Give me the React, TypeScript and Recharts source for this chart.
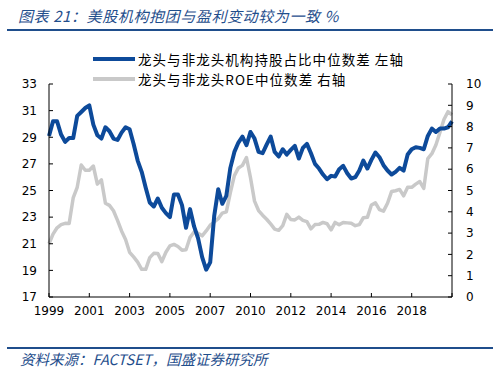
import React from 'react';
import { LineChart, Line, XAxis, YAxis } from 'recharts';

// year labels shown every 10 points on the x axis
const yearLabels = ['1999', '2001', '2003', '2005', '2007', '2010', '2012', '2014', '2016', '2018'];

// 龙头与非龙头机构持股占比中位数差 (left axis)
const holdingGap = [
  29.1, 30.2, 30.2, 29.2, 28.65, 28.94, 28.94, 30.6, 30.9, 31.2,
  31.4, 29.95, 29.15, 28.9, 29.75, 29.45, 28.9, 28.8, 29.35, 29.75,
  29.6, 28.5, 27.25, 26.4, 25.2, 24.1, 23.8, 24.4, 23.7, 23.3,
  23.0, 24.7, 24.7, 23.9, 22.2, 23.6, 22.3, 21.4, 20.0, 19.05,
  19.6, 23.1, 25.1, 24.0, 24.6, 26.7, 27.9, 28.6, 29.05, 28.4,
  29.4, 28.9, 27.9, 27.8, 28.45, 29.05, 27.9, 27.55, 28.1, 27.7,
  28.05, 28.35, 27.4, 28.2, 28.5, 27.8, 27.0, 26.65, 26.2, 25.85,
  26.1, 26.05, 26.6, 26.85, 26.3, 25.9, 26.0, 26.5, 27.25, 26.65,
  27.3, 27.85, 27.5, 26.9, 26.5, 26.2, 26.4, 26.7, 26.5, 27.7,
  28.1, 28.25, 28.2, 28.1, 29.1, 29.65, 29.4, 29.65, 29.65, 29.75,
  30.2,
];

// 龙头与非龙头ROE中位数差 (right axis)
const roeGap = [
  2.5, 2.95, 3.25, 3.4, 3.46, 3.45, 4.65, 5.15, 6.2, 5.95,
  5.95, 6.15, 5.3, 5.5, 4.4, 4.3, 4.05, 3.6, 3.1, 2.7,
  2.1, 1.88, 1.64, 1.3, 1.3, 1.85, 2.05, 2.04, 1.66, 2.1,
  2.4, 2.47, 2.37, 2.2, 2.22, 2.8, 3.05, 3.0, 2.87, 3.1,
  3.37, 3.52, 3.68, 3.94, 4.0, 4.9, 5.7, 6.06, 6.18, 6.55,
  5.6, 4.5, 4.06, 3.84, 3.65, 3.43, 3.19, 3.13, 3.35, 3.88,
  3.64, 3.62, 3.75, 3.6, 3.54, 3.2, 3.4, 3.41, 3.5, 3.44,
  3.15, 3.5, 3.39, 3.5, 3.48, 3.46, 3.35, 3.4, 3.72, 3.74,
  4.32, 4.42, 4.1, 4.03, 4.4, 4.95, 4.99, 5.05, 4.75, 5.15,
  5.15, 5.3, 5.42, 5.1, 6.5, 6.73, 7.14, 7.72, 8.33, 8.7,
  8.55,
];

const leftTicks = [17, 19, 21, 23, 25, 27, 29, 31, 33];
const rightTicks = [0, 1, 2, 3, 4, 5, 6, 7, 8, 9, 10];

const data = holdingGap.map((v, i) => ({ idx: i, holding: v, roe: roeGap[i] }));
const xTicks = Array.from({ length: 11 }, (_, i) => i * 10);

const BLUE = '#0d4a9a';
const GREY = '#c9c9c9';
const TITLE_BLUE = '#1f4e8c';
const cjk = '"Noto Sans CJK SC", sans-serif';
const tickStyle = { fontFamily: '"DejaVu Sans", sans-serif', fontSize: 12, fill: '#000' };

const legendText: React.CSSProperties = {
  position: 'absolute', left: 138, fontFamily: cjk, fontSize: 13.5, letterSpacing: 1.05,
  color: '#000', whiteSpace: 'nowrap', lineHeight: '19px',
};

const App: React.FC = () => {
  return (
    <div style={{ position: 'absolute', left: 0, top: 0, width: 497, height: 372, background: '#fff' }}>
      <div
        style={{
          position: 'absolute', left: 18, top: 5, fontFamily: cjk, fontStyle: 'italic',
          fontSize: 15, letterSpacing: 0.6, color: TITLE_BLUE, whiteSpace: 'nowrap', lineHeight: '22px',
        }}
      >
        图表 21：美股机构抱团与盈利变动较为一致 %
      </div>
      <div style={{ position: 'absolute', left: 7, top: 29, width: 486, height: 1.5, background: TITLE_BLUE }} />

      <LineChart
        width={497}
        height={372}
        data={data}
        margin={{ top: 84, left: 9, right: 5, bottom: 45 }}
      >
        <XAxis
          dataKey="idx"
          type="number"
          domain={[0, 100]}
          ticks={xTicks}
          interval={0}
          tickFormatter={(v: number) => yearLabels[v / 10] ?? ''}
          tick={tickStyle}
          tickSize={-4}
          tickMargin={13}
          stroke="#000"
          height={30}
        />
        <YAxis
          yAxisId="left"
          domain={[17, 33]}
          ticks={leftTicks}
          interval={0}
          tick={tickStyle}
          tickSize={-4}
          tickMargin={16}
          stroke="#000"
          width={40}
        />
        <YAxis
          yAxisId="right"
          orientation="right"
          domain={[0, 10]}
          ticks={rightTicks}
          interval={0}
          tick={tickStyle}
          tickSize={-4}
          tickMargin={18}
          stroke="#000"
          width={40}
        />
        <Line
          yAxisId="right"
          dataKey="roe"
          stroke={GREY}
          strokeWidth={3.5}
          dot={false}
          type="linear"
          strokeLinejoin="round"
          isAnimationActive={false}
        />
        <Line
          yAxisId="left"
          dataKey="holding"
          stroke={BLUE}
          strokeWidth={4}
          dot={false}
          type="linear"
          strokeLinejoin="round"
          isAnimationActive={false}
        />
      </LineChart>

      <div style={{ position: 'absolute', left: 93, top: 57, width: 42, height: 4, background: BLUE }} />
      <div style={{ ...legendText, top: 49.5 }}>龙头与非龙头机构持股占比中位数差 左轴</div>
      <div style={{ position: 'absolute', left: 93, top: 77, width: 42, height: 4, background: GREY }} />
      <div style={{ ...legendText, top: 69.5 }}>龙头与非龙头ROE中位数差 右轴</div>

      <div style={{ position: 'absolute', left: 7, top: 347, width: 486, height: 1.5, background: TITLE_BLUE }} />
      <div
        style={{
          position: 'absolute', left: 20, top: 349, fontFamily: cjk, fontStyle: 'italic',
          fontSize: 14.5, color: TITLE_BLUE, whiteSpace: 'nowrap', lineHeight: '19px',
        }}
      >
        资料来源：FACTSET，国盛证券研究所
      </div>
    </div>
  );
};

export default App;
